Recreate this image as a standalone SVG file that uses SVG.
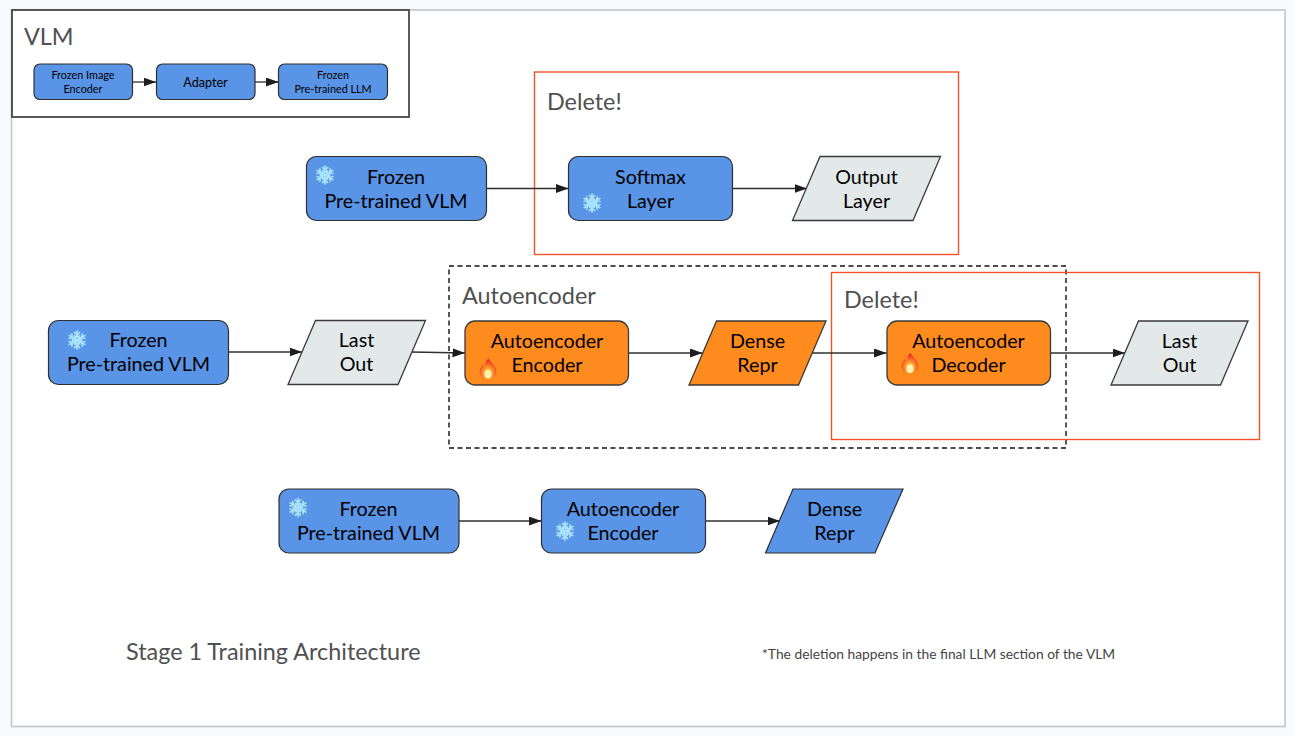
<svg xmlns="http://www.w3.org/2000/svg" xmlns:xlink="http://www.w3.org/1999/xlink" width="1294" height="736" viewBox="0 0 1294 736">
<style>
text{font-family:Lato,"Liberation Sans",sans-serif;text-anchor:middle;fill:#000}
.n{font-size:19.7px}
.s{font-size:10.8px}
.a{font-size:12.6px}
.t{fill:#505050;text-anchor:start;font-size:23.4px}
.blue{fill:#5a94e6;stroke:#2f2f2f;stroke-width:1.2}
.orange{fill:#fe8b1e;stroke:#3a3a3a;stroke-width:1.3}
.gray{fill:#e3e9e9;stroke:#3a3a3a;stroke-width:1.3}
.red{fill:none;stroke:#f2512a;stroke-width:1.4}
.c{fill:none;stroke:#2f2f2f;stroke-width:1.3;marker-end:url(#arr)}
</style>
<defs>
<marker id="arr" markerUnits="userSpaceOnUse" markerWidth="13" markerHeight="10" refX="12.5" refY="4.5" orient="auto"><path d="M0 0L12.5 4.5L0 9Z" fill="#1e1e1e"/></marker>
<radialGradient id="fl" cx="0.5" cy="0.72" r="0.6"><stop offset="0" stop-color="#fff6b0"/><stop offset="0.4" stop-color="#ffa52b"/><stop offset="1" stop-color="#ee3327"/></radialGradient>
<g id="flake" fill="none" stroke="#a9e4fb" stroke-width="1.7" stroke-linecap="round">
<g id="arm"><path d="M0 0V-9M-2.6 -7.6L0 -5L2.6 -7.6M-2.2 -4L0 -2.2L2.2 -4"/></g>
<use xlink:href="#arm" href="#arm" transform="rotate(60)"/><use xlink:href="#arm" href="#arm" transform="rotate(120)"/><use xlink:href="#arm" href="#arm" transform="rotate(180)"/><use xlink:href="#arm" href="#arm" transform="rotate(240)"/><use xlink:href="#arm" href="#arm" transform="rotate(300)"/>
</g>
<g id="flame"><path d="M0.5 -9.5C1.5 -6 7.5 -3 7.5 2.5C7.5 6.5 4.2 8.8 0 8.8C-4.2 8.8 -7.5 6.5 -7.5 2.5C-7.5 -0.5 -5.6 -2.6 -4.6 -4.2C-4.2 -2.8 -3.6 -2.2 -2.8 -2C-3 -5 -1.4 -8 0.5 -9.5Z" fill="url(#fl)"/><ellipse cx="0" cy="4.6" rx="3.1" ry="3.8" fill="#fff3b4"/></g>
</defs>
<rect width="1294" height="736" fill="#f8fafd"/>
<rect x="11.5" y="10" width="1273.5" height="716.5" fill="#fff" stroke="#c2c6ca" stroke-width="1.6"/>

<g id="vlm-frame"><rect x="12" y="10" width="397" height="107" fill="#fff" stroke="#474747" stroke-width="1.8"/><text class="t" x="24" y="45">VLM</text></g>
<g id="delete-frame-1"><rect class="red" x="534.500" y="72" width="424" height="182.500"/><text class="t" x="547" y="110">Delete!</text></g>
<g id="autoencoder-frame"><rect x="449" y="266" width="617" height="182" fill="none" stroke="#111" stroke-width="1.4" stroke-dasharray="5 3.500"/><text class="t" x="462" y="304">Autoencoder</text></g>
<g id="delete-frame-2"><rect class="red" x="831.500" y="272.500" width="428" height="167"/><text class="t" x="844" y="308">Delete!</text></g>

<g id="connectors">
<path class="c" d="M132.500 82H156"/>
<path class="c" d="M255 82H278.500"/>
<path class="c" d="M486.500 188.500H568.500"/>
<path class="c" d="M732.500 188.500H807"/>
<path class="c" d="M228.500 352H302"/>
<path class="c" d="M411 352L465 353"/>
<path class="c" d="M628.500 353H702.500"/>
<path class="c" d="M812 353H886.500"/>
<path class="c" d="M1050.500 353H1125"/>
<path class="c" d="M459 521H541.500"/>
<path class="c" d="M705.500 521H780"/>
</g>

<g id="frozen-image-encoder"><rect class="blue" x="34" y="64" width="98.500" height="35.500" rx="6"/><text class="s" x="83" y="79">Frozen Image</text><text class="s" x="83" y="93">Encoder</text></g>
<g id="adapter"><rect class="blue" x="156.500" y="64" width="98.500" height="35.500" rx="6"/><text class="a" x="205.500" y="87">Adapter</text></g>
<g id="frozen-llm"><rect class="blue" x="278.500" y="64" width="109" height="35.500" rx="6"/><text class="s" x="333" y="79">Frozen</text><text class="s" x="333" y="93">Pre-trained LLM</text></g>

<g id="vlm-1"><rect class="blue" x="306.500" y="156.500" width="180" height="64" rx="10"/><use href="#flake" xlink:href="#flake" transform="translate(325 175)"/><text class="n" x="396" y="184">Frozen</text><text class="n" x="396" y="208">Pre-trained VLM</text></g>
<g id="softmax"><rect class="blue" x="568.500" y="156.500" width="164" height="64" rx="10"/><use href="#flake" xlink:href="#flake" transform="translate(592 203)"/><text class="n" x="650.500" y="184">Softmax</text><text class="n" x="650.500" y="208">Layer</text></g>
<g id="output-layer"><path class="gray" d="M820 156.500H940.500L913 220.500H792.500Z"/><text class="n" x="866.500" y="184">Output</text><text class="n" x="866.500" y="208">Layer</text></g>

<g id="vlm-2"><rect class="blue" x="48.500" y="320.500" width="180" height="64" rx="10"/><use href="#flake" xlink:href="#flake" transform="translate(77 340)"/><text class="n" x="138.500" y="347">Frozen</text><text class="n" x="138.500" y="371">Pre-trained VLM</text></g>
<g id="last-out-1"><path class="gray" d="M315.500 320.500H425.500L398 384.500H288Z"/><text class="n" x="356.500" y="347">Last</text><text class="n" x="356.500" y="371">Out</text></g>
<g id="ae-encoder"><rect class="orange" x="465" y="321" width="163.500" height="64" rx="10"/><use href="#flame" xlink:href="#flame" transform="translate(488 369) scale(1.12)"/><text class="n" x="547" y="348">Autoencoder</text><text class="n" x="547" y="372">Encoder</text></g>
<g id="dense-1"><path class="orange" d="M716.500 321H826L798.500 385H689Z"/><text class="n" x="757.500" y="348">Dense</text><text class="n" x="757.500" y="372">Repr</text></g>
<g id="ae-decoder"><rect class="orange" x="887" y="321" width="163.500" height="64" rx="10"/><use href="#flame" xlink:href="#flame" transform="translate(910 363.500) scale(1.12)"/><text class="n" x="968.500" y="348">Autoencoder</text><text class="n" x="968.500" y="372">Decoder</text></g>
<g id="last-out-2"><path class="gray" d="M1138.500 321H1248L1220.500 385H1111Z"/><text class="n" x="1179.500" y="348">Last</text><text class="n" x="1179.500" y="372">Out</text></g>

<g id="vlm-3"><rect class="blue" x="279" y="489" width="180" height="64" rx="10"/><use href="#flake" xlink:href="#flake" transform="translate(298 507.500)"/><text class="n" x="368.500" y="516">Frozen</text><text class="n" x="368.500" y="540">Pre-trained VLM</text></g>
<g id="ae-encoder-frozen"><rect class="blue" x="541.500" y="489" width="164" height="64" rx="10"/><use href="#flake" xlink:href="#flake" transform="translate(565 531)"/><text class="n" x="623" y="516">Autoencoder</text><text class="n" x="623" y="540">Encoder</text></g>
<g id="dense-2"><path class="blue" d="M793 489H903L875 553H765.500Z"/><text class="n" x="834.500" y="516">Dense</text><text class="n" x="834.500" y="540">Repr</text></g>

<text x="126" y="660" style="text-anchor:start;font-size:23.400px;fill:#505050">Stage 1 Training Architecture</text>
<text x="762" y="659" style="text-anchor:start;font-size:13.800px;fill:#444">*The deletion happens in the final LLM section of the VLM</text>
</svg>
